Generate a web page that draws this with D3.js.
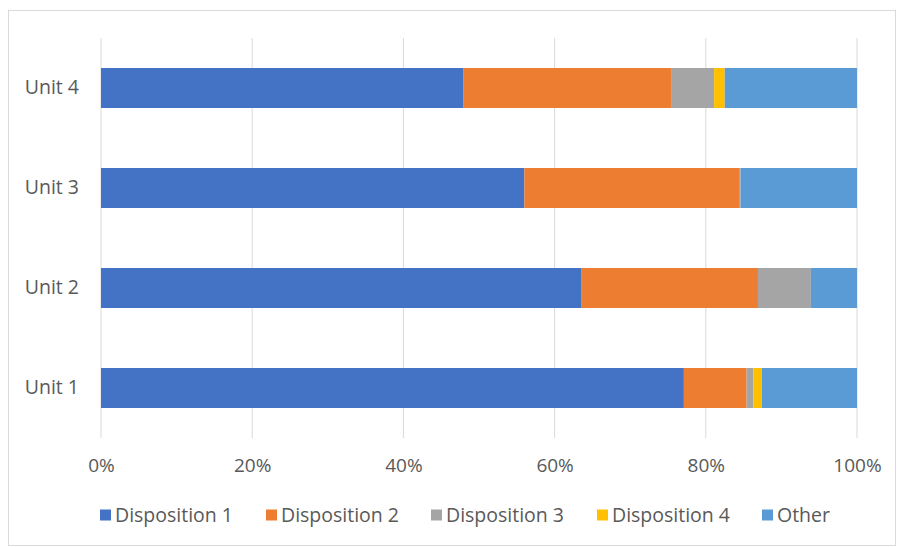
<!DOCTYPE html>
<html lang="en">
<head>
    <meta charset="UTF-8">
    <title>Disposition by Unit</title>
    <script src="https://cdn.jsdelivr.net/npm/d3@7"></script>
    <style>
        body { margin: 0; background: #fff; }
        text { font-family: "Open Sans", sans-serif; fill: #595959; }
    </style>
</head>
<body>
    <div id="chart-space"></div>

    <script>
        // data (percent of each unit)
        var units = ["Unit 1", "Unit 2", "Unit 3", "Unit 4"];
        var series = ["Disposition 1", "Disposition 2", "Disposition 3", "Disposition 4", "Other"];
        var disp1 = [77.1, 63.5, 56.0, 47.9];
        var disp2 = [8.3, 23.4, 28.4, 27.6];
        var disp3 = [0.9, 7.0, 0.2, 5.6];
        var disp4 = [1.1, 0.0, 0.0, 1.4];
        var other = [12.6, 6.1, 15.4, 17.5];
        var ticks = [0, 20, 40, 60, 80, 100];
        var colors = ["#4472C4", "#ED7D31", "#A5A5A5", "#FFC000", "#5B9BD5"];

        var width = 900;
        var height = 547;

        var rows = units.map(function(u, i) {
            return {unit: u, "Disposition 1": disp1[i], "Disposition 2": disp2[i],
                    "Disposition 3": disp3[i], "Disposition 4": disp4[i], "Other": other[i]};
        });

        var svg = d3.select("#chart-space")
            .append("svg")
            .attr("width", width)
            .attr("height", height);

        // chart frame
        svg.append("rect")
            .attr("x", 8.5).attr("y", 10.5)
            .attr("width", 887).attr("height", 535)
            .attr("fill", "#fff")
            .attr("stroke", "#d9d9d9");

        var xScale = d3.scaleLinear()
            .domain([0, 100])
            .range([101, 857]);

        var yScale = d3.scaleBand()
            .domain(units.slice().reverse())
            .range([38, 438])
            .paddingInner(0.6)
            .paddingOuter(0.3);

        // gridlines
        svg.append("g")
            .selectAll("line")
            .data(ticks)
            .join("line")
            .attr("x1", function(d) { return xScale(d); })
            .attr("x2", function(d) { return xScale(d); })
            .attr("y1", 38)
            .attr("y2", 438)
            .attr("stroke", "#d9d9d9")
            .attr("stroke-width", 1);

        var stacked = d3.stack().keys(series)(rows);
        var color = d3.scaleOrdinal().domain(series).range(colors);

        svg.append("g")
            .selectAll("g")
            .data(stacked)
            .join("g")
            .attr("fill", function(d) { return color(d.key); })
            .selectAll("rect")
            .data(function(d) { return d; })
            .join("rect")
            .attr("x", function(d) { return xScale(d[0]); })
            .attr("width", function(d) { return xScale(d[1]) - xScale(d[0]); })
            .attr("y", function(d) { return yScale(d.data.unit); })
            .attr("height", yScale.bandwidth());

        // x axis labels
        var xAxis = svg.append("g")
            .attr("transform", "translate(0,438)")
            .call(d3.axisBottom(xScale).tickValues(ticks).tickSize(0).tickPadding(21)
                .tickFormat(function(d) { return d + "%"; }));
        xAxis.select(".domain").remove();
        xAxis.selectAll("text")
            .attr("font-family", "Open Sans")
            .style("font-size", "19px");

        // y axis labels
        var yAxis = svg.append("g")
            .attr("transform", "translate(101,0)")
            .call(d3.axisLeft(yScale).tickSize(0).tickPadding(22));
        yAxis.select(".domain").remove();
        yAxis.selectAll("text")
            .attr("font-family", "Open Sans")
            .style("font-size", "19.5px");

        // legend
        var legendX = [100, 266, 431, 597, 762];
        var legend = svg.append("g")
            .selectAll("g")
            .data(series)
            .join("g")
            .attr("transform", function(d, i) { return "translate(" + legendX[i] + ",515)"; });

        legend.append("rect")
            .attr("x", 0).attr("y", -5.5)
            .attr("width", 11).attr("height", 11)
            .attr("fill", function(d) { return color(d); });

        legend.append("text")
            .attr("x", 15)
            .attr("dy", "0.35em")
            .style("font-size", "19.5px")
            .text(function(d) { return d; });
    </script>
</body>
</html>
